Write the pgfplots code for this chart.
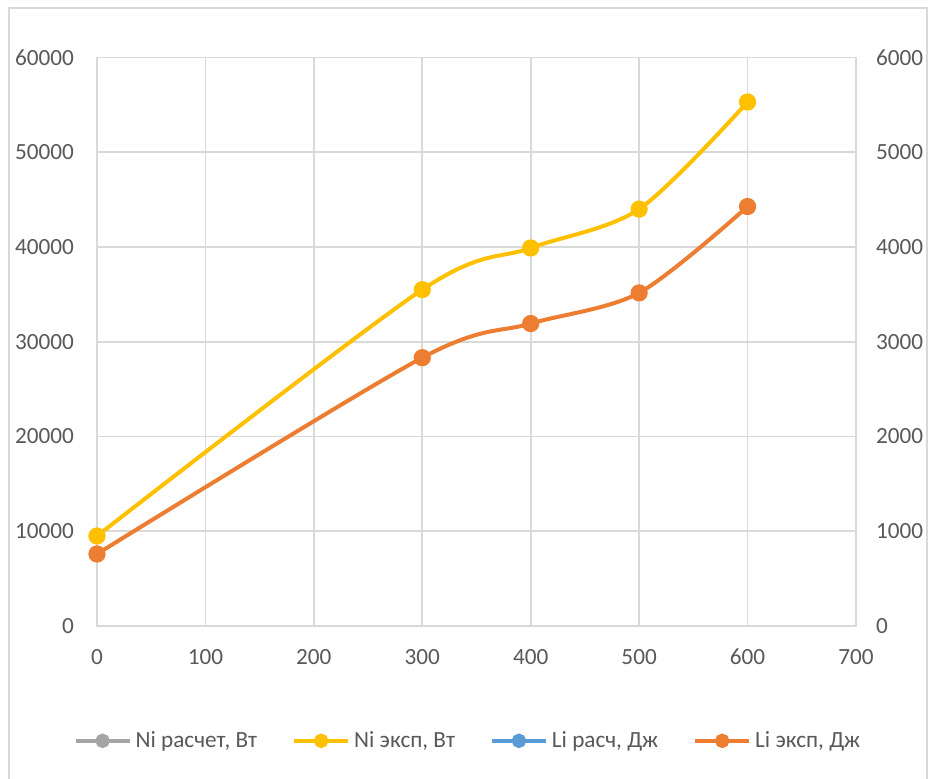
\documentclass[border=0pt]{standalone}
\usepackage{fontspec}
\setmainfont{Carlito}
\usepackage{pgfplots}
\pgfplotsset{compat=1.18}

\definecolor{niCalc}{HTML}{A5A5A5}
\definecolor{niExp}{HTML}{FFC000}
\definecolor{liCalc}{HTML}{5B9BD5}
\definecolor{liExp}{HTML}{ED7D31}
\definecolor{gridgray}{HTML}{D9D9D9}
\definecolor{labelgray}{HTML}{595959}

\pgfplotsset{
  excelbase/.style={
    scale only axis, width=379.5pt, height=284.25pt,
    at={(48.5pt,76pt)}, anchor=south west,
    xmin=0, xmax=700, ymin=0,
    tick style={draw=none},
    ticklabel style={font=\fontsize{11.6}{14}\selectfont, text=labelgray},
    /pgf/number format/assume math mode=true,
    /pgf/number format/1000 sep={},
    scaled y ticks=false,
    axis line style={gridgray, line width=0.8pt},
  },
  series/.style={color=#1, line width=2pt, smooth, tension=0.5,
    mark=*, mark size=3.3pt, mark options={solid, fill=#1, draw=#1}},
}

\begin{document}
\begin{tikzpicture}
\useasboundingbox (0,0) rectangle (466pt,389pt);
\fill[white] (0,0) rectangle (466pt,389pt);
\draw[gridgray, line width=1pt] (4.5pt,-3pt) rectangle (463.5pt,385pt);

% primary axis: power, W
\begin{axis}[excelbase,
  ymax=60000, ytick={0,10000,...,60000},
  xtick={0,100,...,700},
  grid=major, grid style={gridgray, line width=0.8pt},
  yticklabel style={xshift=-8pt},
  xticklabel style={yshift=-8pt},
]
\addplot[series=niExp] coordinates {
  (0,9500) (300,35500) (400,39900) (500,44000) (600,55300)
};
\end{axis}

% secondary axis: energy, J
\begin{axis}[excelbase,
  ymax=6000, ytick={0,1000,...,6000},
  axis y line*=right, axis x line=none,
  yticklabel style={xshift=6.5pt},
  legend style={at={(0.49,-0.202)}, anchor=center, draw=none, fill=none,
    font=\fontsize{11.6}{14}\selectfont, text=labelgray,
    legend columns=4,
    nodes={inner xsep=2pt},
    /tikz/every even column/.append style={column sep=15.5pt}},
  legend image code/.code={\draw[mark repeat=2, mark phase=2, line width=2pt, #1]
    plot coordinates {(0pt,0pt) (13.5pt,0pt) (27pt,0pt)};},
]
\addlegendimage{color=niCalc, mark=*, mark size=2.6pt, mark options={fill=niCalc, draw=niCalc}}
\addlegendentry{Ni расчет, Вт}
\addlegendimage{color=niExp, mark=*, mark size=2.6pt, mark options={fill=niExp, draw=niExp}}
\addlegendentry{Ni эксп, Вт}
\addlegendimage{color=liCalc, mark=*, mark size=2.6pt, mark options={fill=liCalc, draw=liCalc}}
\addlegendentry{Li расч, Дж}
\addplot[series=liExp, forget plot] coordinates {
  (0,760) (300,2832) (400,3192) (500,3516) (600,4427)
};
\addlegendimage{color=liExp, mark=*, mark size=2.6pt, mark options={fill=liExp, draw=liExp}}
\addlegendentry{Li эксп, Дж}
\end{axis}
\end{tikzpicture}
\end{document}
